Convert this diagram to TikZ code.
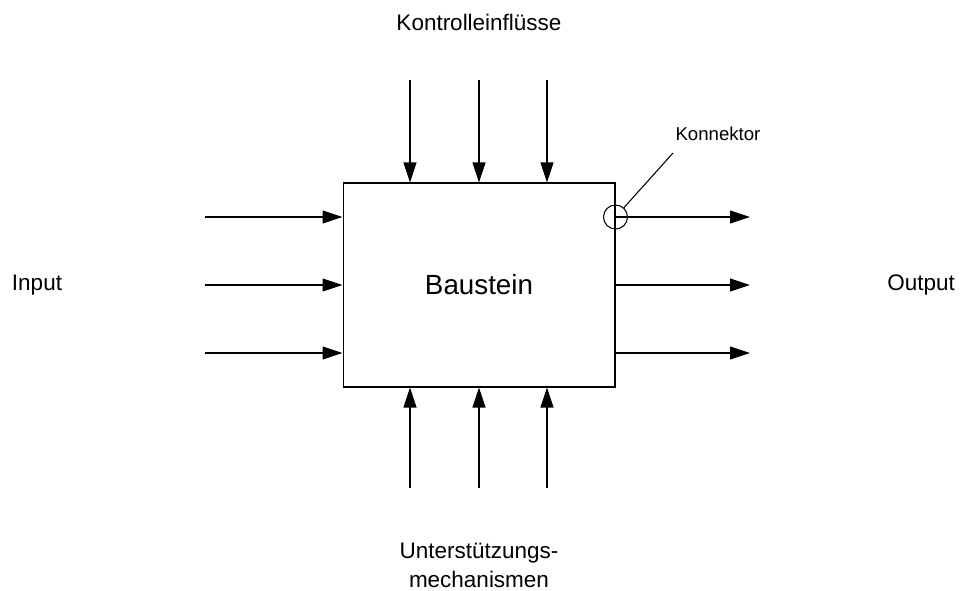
\documentclass[tikz,border=0pt]{standalone}
\usepackage{fontspec}
\setmainfont{Liberation Sans}
\usetikzlibrary{arrows.meta,positioning}

\begin{document}
\begin{tikzpicture}[x=0.02cm, y=-0.02cm,
  block/.style={rectangle, draw, line width=0.6pt, minimum width=5.44cm,
    minimum height=4.08cm, font=\fontsize{15.8}{19}\selectfont},
  lbl/.style={font=\fontsize{12.8}{16.5}\selectfont, align=center},
  arr/.style={-{Triangle[length=0.4cm,width=0.26cm]}, line width=0.6pt},
  conn/.style={circle, draw, line width=0.6pt, minimum size=0.48cm, inner sep=0pt}
]
\useasboundingbox (0,0) rectangle (960,591);

% Block
\node[block] (block) at (479,285) {Baustein};

% Free ends of the arrows
\coordinate (ctrl1) at (410,80);
\coordinate (ctrl2) at (479,80);
\coordinate (ctrl3) at (547,80);
\coordinate (mech1) at (410,488);
\coordinate (mech2) at (479,488);
\coordinate (mech3) at (547,488);
\coordinate (in1)   at (205,217);
\coordinate (in2)   at (205,285);
\coordinate (in3)   at (205,353);
\coordinate (out1)  at (750,217);
\coordinate (out2)  at (750,285);
\coordinate (out3)  at (750,353);

% Labels
\node[lbl] (control) at (479,22)  {Kontrolleinflüsse};
\node[lbl] (input)   at (37,285)  {Input};
\node[lbl] (output)  at (921,285) {Output};
\node[lbl] (support) at (479,565) {Unterstützungs-\\mechanismen};

% Connector
\node[conn] (konnektor) at (block.east |- out1) {};
\node[font=\fontsize{10.6}{13}\selectfont] (konnlabel) at (718,134) {Konnektor};
\coordinate (konnend) at (673,153);

% Edges
\draw[arr] (ctrl1) -- (ctrl1 |- block.north);
\draw[arr] (ctrl2) -- (ctrl2 |- block.north);
\draw[arr] (ctrl3) -- (ctrl3 |- block.north);
\draw[arr] (mech1) -- (mech1 |- block.south);
\draw[arr] (mech2) -- (mech2 |- block.south);
\draw[arr] (mech3) -- (mech3 |- block.south);
\draw[arr] (in1) -- (in1 -| block.west);
\draw[arr] (in2) -- (in2 -| block.west);
\draw[arr] (in3) -- (in3 -| block.west);
\draw[arr] (konnektor.center) -- (out1);
\draw[arr] (out2 -| block.east) -- (out2);
\draw[arr] (out3 -| block.east) -- (out3);
\draw[line width=0.6pt] (konnektor.48) -- (konnend);

\end{tikzpicture}
\end{document}
